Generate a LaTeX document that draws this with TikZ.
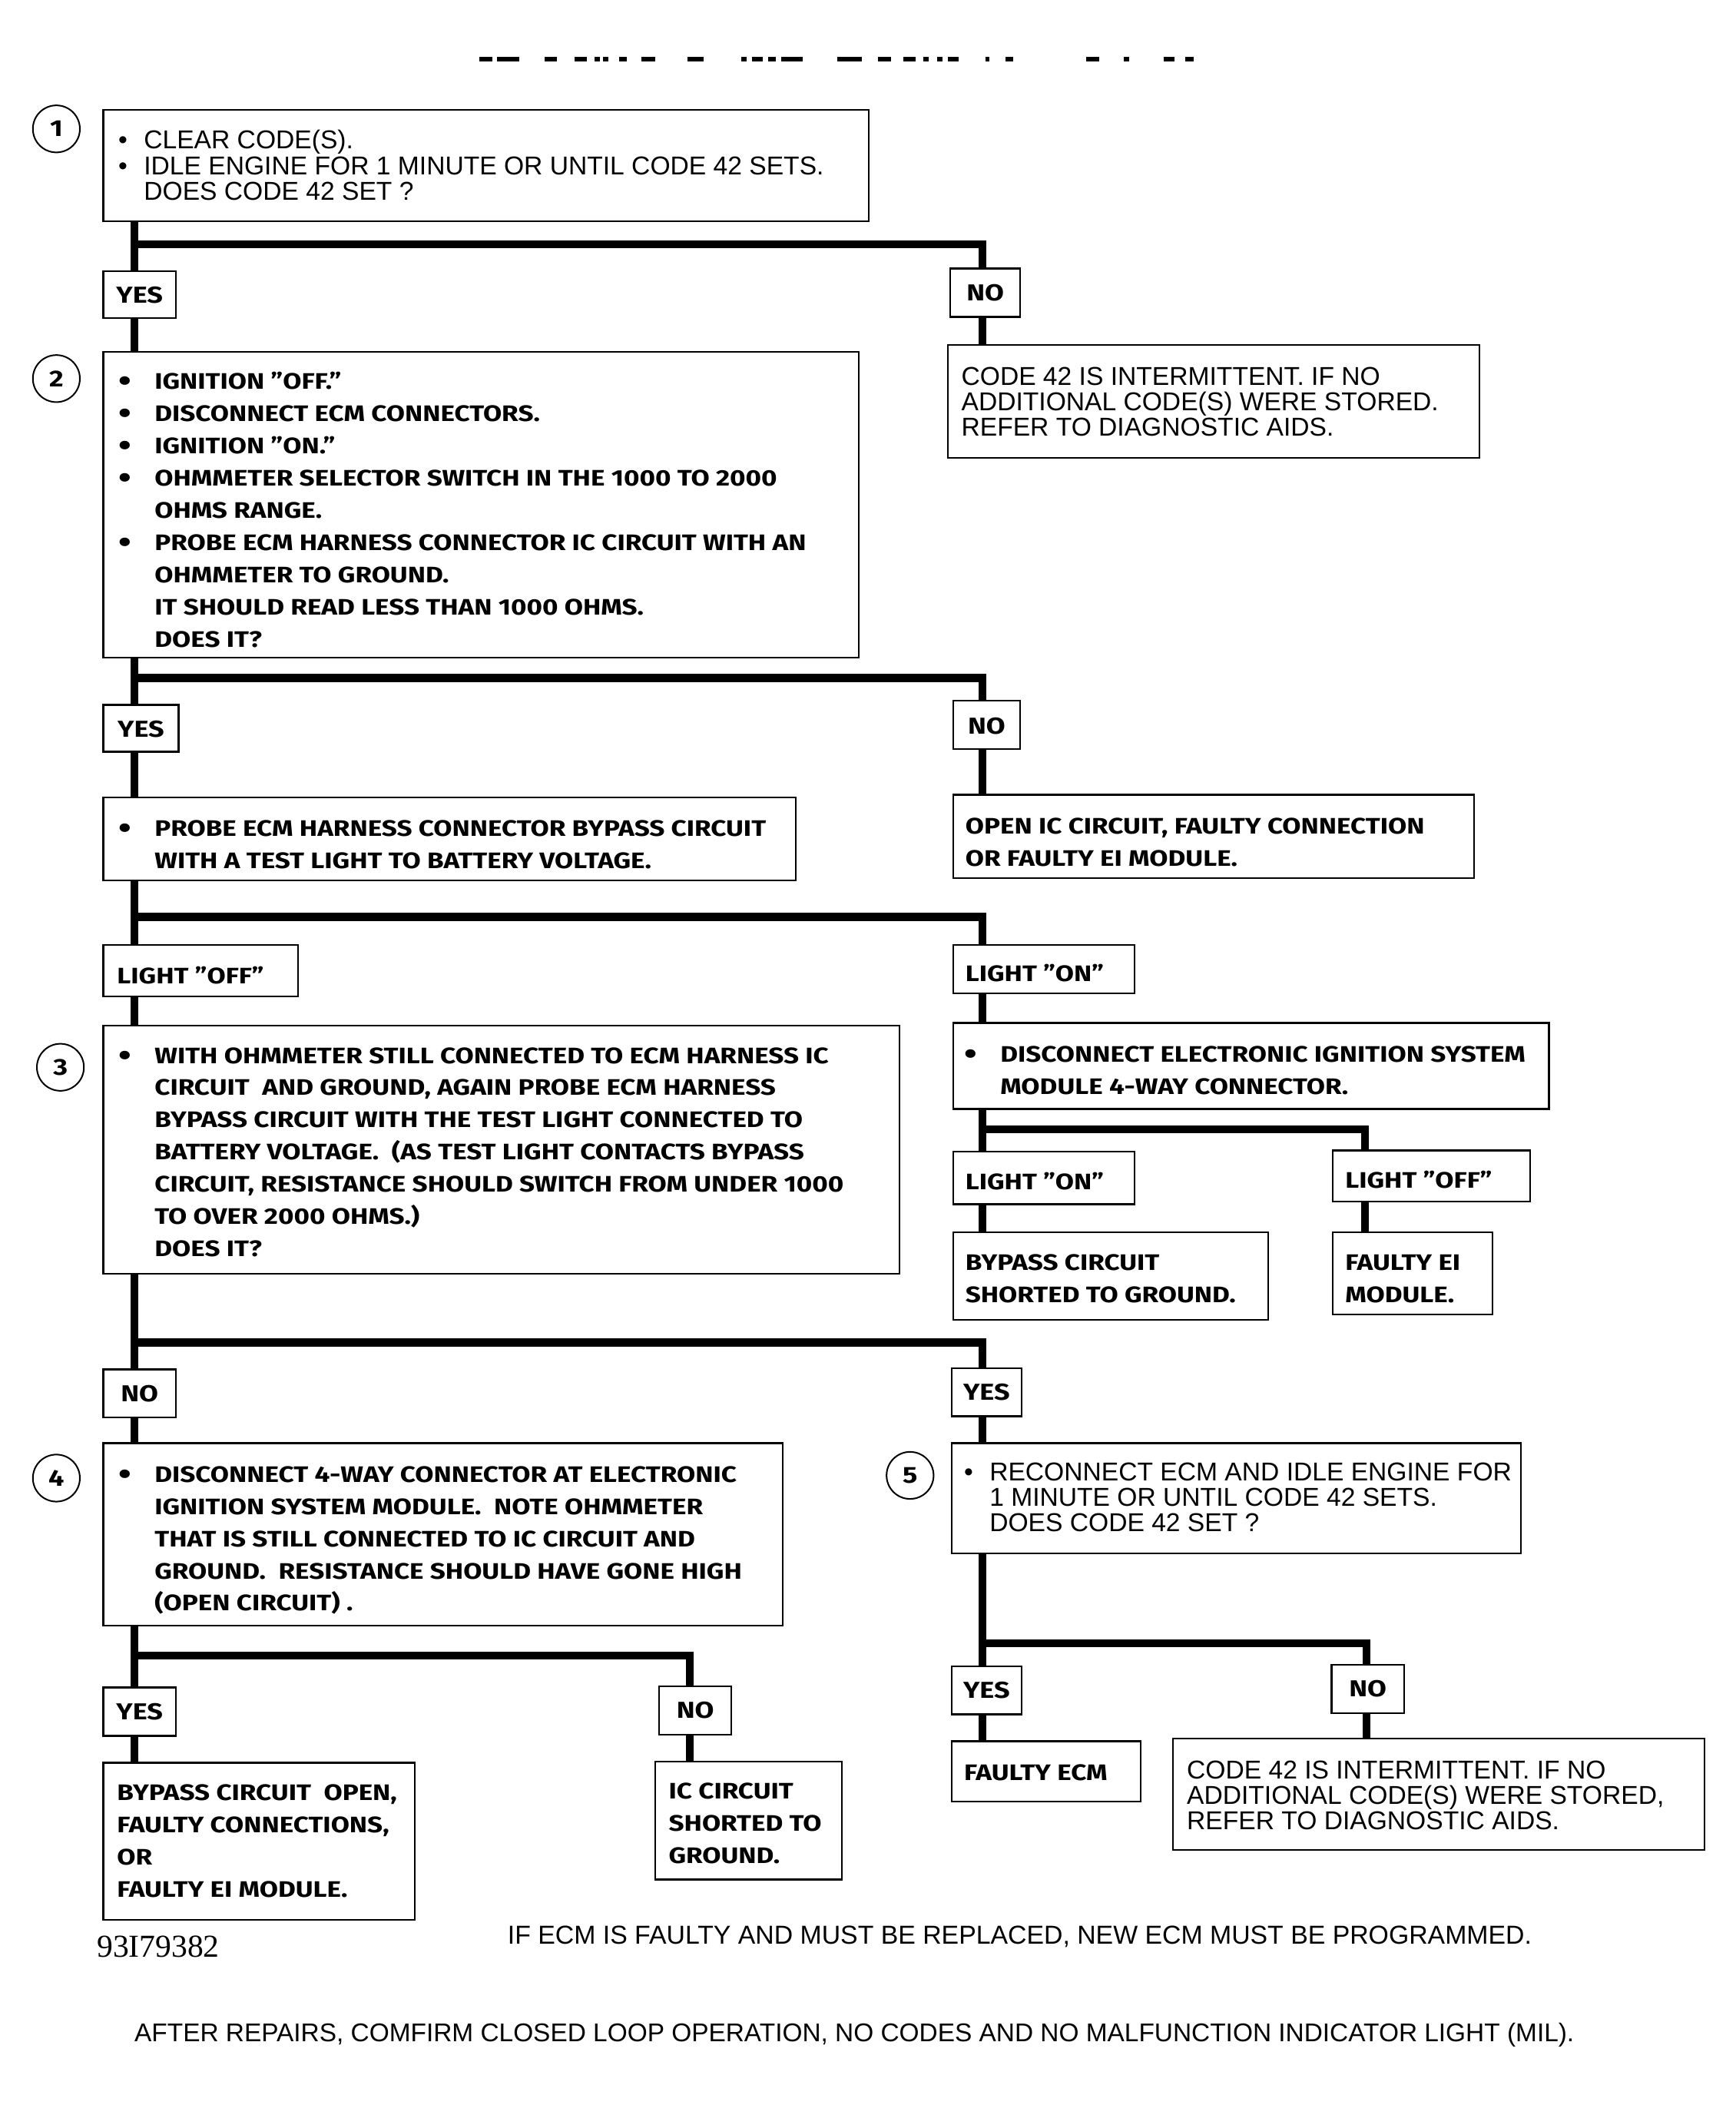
\documentclass[tikz,border=0pt]{standalone}
\usepackage{fontspec}
\setmainfont{Liberation Sans}
\newfontfamily\bfam{Fira Sans}[FakeStretch=1.2]
\newfontfamily\serfam{Liberation Serif}
\newlength\un \setlength\un{0.8735pt}
\newcommand\rf{\fontsize{16.8}{16.6}\selectfont}
\newcommand\bff{\bfam\bfseries\fontsize{14.6}{20.96}\selectfont}
\newcommand\lbf{\bfam\bfseries\fontsize{15}{18}\selectfont}
\newcommand\rbul{\makebox[19\un][l]{\textbullet}}
\newcommand\rnob{\makebox[19\un]{}}
\newcommand\bbul{\makebox[27\un][l]{\fontsize{20}{20}\selectfont\raisebox{-1.5pt}{•}}}
\newcommand\bnob{\makebox[27\un]{}}
\newcommand\bx[5]{\node[bxs, minimum width={(#4-#2)*\un}, minimum height={(#5-#3)*\un}] (#1) at ({(#2+#4)/2},{(#3+#5)/2}) {};}
\begin{document}
\begin{tikzpicture}[x=0.8735pt, y=-0.8735pt,
  bxs/.style={draw, line width=1.1pt, inner sep=0pt},
  conn/.style={line width=5.1pt, line cap=butt, line join=miter},
  tr/.style={font=\rf, inner sep=0pt, align=left, anchor=base west},
  tb/.style={font=\bff, inner sep=0pt, align=left, anchor=base west},
  tl/.style={font=\lbf, inner sep=0pt, anchor=base},
  circ/.style={circle, draw, line width=1pt, minimum size=30.6pt, inner sep=0pt, font=\bfam\bfseries\fontsize{15}{15}\selectfont}]
\useasboundingbox (0,0) rectangle (1293,1568);
% cut-off title fragments
\foreach \a/\b in {357/367, 370/387, 406/415, 428/437, 443/447, 449/453, 461/467, 478/488, 512/524, 552/556, 560/568, 572/578, 582/598, 624/642, 654/664, 673/682, 688/692, 698/702, 706/714, 734/737, 749/755, 809/819, 837/841, 867/875, 883/889}
  \fill (\a,42.5) rectangle (\b,45.5);
% boxes
\bx{b1}{77}{82}{647}{165}
\bx{yes1}{77}{202}{131}{237}
\bx{no1}{708}{200}{760}{236}
\bx{b2}{77}{262}{640}{490}
\bx{r1}{706}{257}{1102}{341}
\bx{yes2}{77}{525}{133}{560}
\bx{no2}{710}{522}{760}{558}
\bx{probe}{77}{594}{593}{656}
\bx{openic}{710}{592}{1098}{654}
\bx{off1}{77}{704}{222}{742}
\bx{on1}{710}{704}{845}{740}
\bx{b3}{77}{764}{670}{949}
\bx{disc}{710}{762}{1154}{826}
\bx{on2}{710}{858}{845}{897}
\bx{off2}{993}{857}{1140}{895}
\bx{short}{710}{918}{945}{983}
\bx{fei}{993}{918}{1112}{979}
\bx{no3}{77}{1020}{131}{1056}
\bx{yes3}{709}{1019}{761}{1055}
\bx{b4}{77}{1075}{583}{1211}
\bx{b5}{709}{1075}{1133}{1157}
\bx{yes4}{77}{1257}{131}{1293}
\bx{no4}{491}{1256}{545}{1292}
\bx{bopen}{77}{1313}{309}{1430}
\bx{icshort}{488}{1312}{627}{1400}
\bx{yes5}{709}{1241}{761}{1277}
\bx{no5}{992}{1240}{1046}{1276}
\bx{fecm}{709}{1297}{850}{1342}
\bx{c42b}{874}{1295}{1270}{1378}
% step circles
\node[circ] (c1) at (42,96) {1};
\node[circ] (c2) at (42,282) {2};
\node[circ] (c3) at (45,795) {3};
\node[circ] (c4) at (42,1101) {4};
\node[circ] (c5) at (678,1099) {5};
% texts (anchor = baseline of the last line)
\node[tr] (t1) at (88,149) {\rbul CLEAR CODE(S).\\\rbul IDLE ENGINE FOR 1 MINUTE OR UNTIL CODE 42 SETS.\\\rnob DOES CODE 42 SET ?};
\node[tl] (l1) at (104,226) {YES};
\node[tl] (l2) at (734,224) {NO};
\node[tb] (t2) at (88,482) {\bbul IGNITION ”OFF.”\\\bbul DISCONNECT ECM CONNECTORS.\\\bbul IGNITION ”ON.”\\\bbul OHMMETER SELECTOR SWITCH IN THE 1000 TO 2000\\\bnob OHMS RANGE.\\\bbul PROBE ECM HARNESS CONNECTOR IC CIRCUIT WITH AN\\\bnob OHMMETER TO GROUND.\\\bnob IT SHOULD READ LESS THAN 1000 OHMS.\\\bnob DOES IT?};
\node[tr] (t3) at (716,325) {CODE 42 IS INTERMITTENT. IF NO\\ADDITIONAL CODE(S) WERE STORED.\\REFER TO DIAGNOSTIC AIDS.};
\node[tl] (l3) at (105,549) {YES};
\node[tl] (l4) at (735,547) {NO};
\node[tb] (t4) at (88,647) {\bbul PROBE ECM HARNESS CONNECTOR BYPASS CIRCUIT\\\bnob WITH A TEST LIGHT TO BATTERY VOLTAGE.};
\node[tb] (t5) at (719,645) {OPEN IC CIRCUIT, FAULTY CONNECTION\\OR FAULTY EI MODULE.};
\node[tb] (t6) at (87,733) {LIGHT ”OFF”};
\node[tb] (t7) at (719,731) {LIGHT ”ON”};
\node[tb] (t8) at (88,936) {\bbul WITH OHMMETER STILL CONNECTED TO ECM HARNESS IC\\\bnob CIRCUIT\ \ AND GROUND, AGAIN PROBE ECM HARNESS\\\bnob BYPASS CIRCUIT WITH THE TEST LIGHT CONNECTED TO\\\bnob BATTERY VOLTAGE.\ \ (AS TEST LIGHT CONTACTS BYPASS\\\bnob CIRCUIT, RESISTANCE SHOULD SWITCH FROM UNDER 1000\\\bnob TO OVER 2000 OHMS.)\\\bnob DOES IT?};
\node[tb] (t9) at (718,815) {\bbul DISCONNECT ELECTRONIC IGNITION SYSTEM\\\bnob MODULE 4-WAY CONNECTOR.};
\node[tb] (t10) at (719,886) {LIGHT ”ON”};
\node[tb] (t11) at (1002,885) {LIGHT ”OFF”};
\node[tb] (t12) at (719,970) {BYPASS CIRCUIT\\SHORTED TO GROUND.};
\node[tb] (t13) at (1002,970) {FAULTY EI\\MODULE.};
\node[tl] (l5) at (104,1044) {NO};
\node[tl] (l6) at (735,1043) {YES};
\node[tb] (t14) at (88,1200) {\bbul DISCONNECT 4-WAY CONNECTOR AT ELECTRONIC\\\bnob IGNITION SYSTEM MODULE.\ \ NOTE OHMMETER\\\bnob THAT IS STILL CONNECTED TO IC CIRCUIT AND\\\bnob GROUND.\ \ RESISTANCE SHOULD HAVE GONE HIGH\\\bnob (OPEN CIRCUIT) .};
\node[tr] (t15) at (718,1141) {\rbul RECONNECT ECM AND IDLE ENGINE FOR\\\rnob 1 MINUTE OR UNTIL CODE 42 SETS.\\\rnob DOES CODE 42 SET ?};
\node[tl] (l7) at (104,1281) {YES};
\node[tl] (l8) at (518,1280) {NO};
\node[tb] (t16) at (87,1413) {BYPASS CIRCUIT\ \ OPEN,\\FAULTY CONNECTIONS,\\OR\\FAULTY EI MODULE.};
\node[tb] (t17) at (498,1388) {IC CIRCUIT\\SHORTED TO\\GROUND.};
\node[tl] (l9) at (735,1265) {YES};
\node[tl] (l10) at (1019,1264) {NO};
\node[tb] (t18) at (718,1326) {FAULTY ECM};
\node[tr] (t19) at (884,1363) {CODE 42 IS INTERMITTENT. IF NO\\ADDITIONAL CODE(S) WERE STORED,\\REFER TO DIAGNOSTIC AIDS.};
\node[inner sep=0pt, anchor=base west, font=\serfam\fontsize{20.8}{21}\selectfont] (f1) at (72,1458) {93I79382};
\node[inner sep=0pt, anchor=base west, font=\fontsize{16.9}{17}\selectfont] (f2) at (378,1448) {IF ECM IS FAULTY AND MUST BE REPLACED, NEW ECM MUST BE PROGRAMMED.};
\node[inner sep=0pt, anchor=base west, font=\fontsize{16.7}{17}\selectfont] (f3) at (100,1521) {AFTER REPAIRS, COMFIRM CLOSED LOOP OPERATION, NO CODES AND NO MALFUNCTION INDICATOR LIGHT (MIL).};
% connectors
\coordinate (j1) at (100,182); \coordinate (k1) at (732,182);
\draw[conn] (b1.south -| j1) -- (yes1.north -| j1);
\draw[conn] (j1) -- (k1) -- (k1 |- no1.north);
\draw[conn] (yes1.south -| j1) -- (b2.north -| j1);
\draw[conn] (no1.south -| k1) -- (r1.north -| k1);
\coordinate (j2) at (100,505); \coordinate (k2) at (732,505);
\draw[conn] (b2.south -| j2) -- (yes2.north -| j2);
\draw[conn] (j2) -- (k2) -- (k2 |- no2.north);
\draw[conn] (yes2.south -| j2) -- (probe.north -| j2);
\draw[conn] (no2.south -| k2) -- (openic.north -| k2);
\coordinate (j3) at (100,683); \coordinate (k3) at (732,683);
\draw[conn] (probe.south -| j3) -- (off1.north -| j3);
\draw[conn] (j3) -- (k3) -- (k3 |- on1.north);
\draw[conn] (off1.south -| j3) -- (b3.north -| j3);
\draw[conn] (on1.south -| k3) -- (disc.north -| k3);
\coordinate (j4) at (732,841); \coordinate (k4) at (1017,841);
\draw[conn] (disc.south -| j4) -- (on2.north -| j4);
\draw[conn] (j4) -- (k4) -- (k4 |- off2.north);
\draw[conn] (on2.south -| j4) -- (short.north -| j4);
\draw[conn] (off2.south -| k4) -- (fei.north -| k4);
\coordinate (j5) at (100,1000); \coordinate (k5) at (732,1000);
\draw[conn] (b3.south -| j5) -- (no3.north -| j5);
\draw[conn] (j5) -- (k5) -- (k5 |- yes3.north);
\draw[conn] (no3.south -| j5) -- (b4.north -| j5);
\draw[conn] (yes3.south -| k5) -- (b5.north -| k5);
\coordinate (j6) at (100,1233); \coordinate (k6) at (514,1233);
\draw[conn] (b4.south -| j6) -- (yes4.north -| j6);
\draw[conn] (j6) -- (k6) -- (k6 |- no4.north);
\draw[conn] (yes4.south -| j6) -- (bopen.north -| j6);
\draw[conn] (no4.south -| k6) -- (icshort.north -| k6);
\coordinate (j7) at (732,1224); \coordinate (k7) at (1018,1224);
\draw[conn] (b5.south -| j7) -- (yes5.north -| j7);
\draw[conn] (j7) -- (k7) -- (k7 |- no5.north);
\draw[conn] (yes5.south -| j7) -- (fecm.north -| j7);
\draw[conn] (no5.south -| k7) -- (c42b.north -| k7);
\end{tikzpicture}
\end{document}
